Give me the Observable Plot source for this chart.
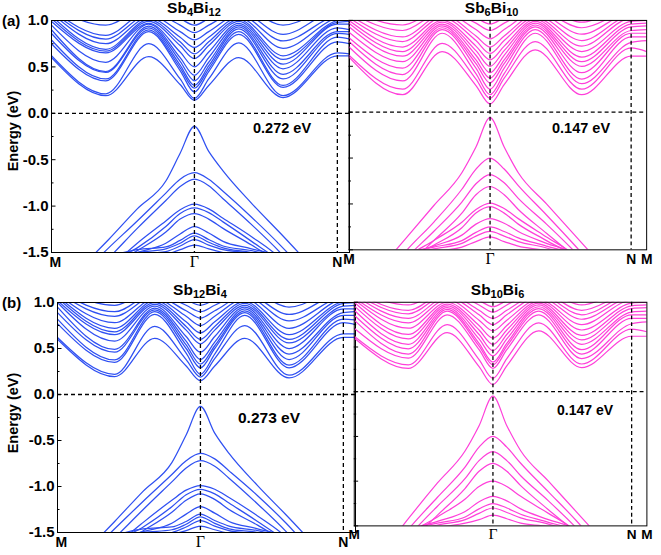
<!DOCTYPE html>
<html><head><meta charset="utf-8">
<script src="https://cdn.jsdelivr.net/npm/d3@7"></script>
<script src="https://cdn.jsdelivr.net/npm/@observablehq/plot@0.6"></script>
<style>
body{margin:0;background:#fff;}
#fig{position:relative;width:661px;height:555px;overflow:hidden;font-family:"Liberation Sans",Arial,sans-serif;color:#000;background:#fff;}
.lbl{position:absolute;white-space:nowrap;font-weight:bold;line-height:1;}
.pan{position:absolute;}
.lbl sub{font-size:11px;vertical-align:-3px;line-height:0;}
</style></head><body><div id="fig"></div>
<script>
// ---------- data: conduction bands (eV) at k-points (M=0, Γ=1, N=2) ----------
const kCB_a1 = [0, 0.38, 0.68, 0.9, 1.0, 1.1, 1.31, 1.62, 2.0, 2.085];
const cb_a1 = [
  [0.60, 0.19, 0.61, 0.31, 0.14, 0.30, 0.60, 0.17, 0.62, 0.62],
  [0.62, 0.21, 0.75, 0.37, 0.16, 0.37, 0.76, 0.19, 0.65, 0.64],
  [0.75, 0.35, 0.88, 0.46, 0.23, 0.45, 0.85, 0.28, 0.77, 0.75],
  [0.79, 0.37, 0.90, 0.49, 0.27, 0.48, 0.88, 0.30, 0.82, 0.80],
  [0.86, 0.44, 0.92, 0.52, 0.30, 0.51, 0.91, 0.37, 0.86, 0.85],
  [0.90, 0.45, 0.94, 0.56, 0.35, 0.55, 0.93, 0.42, 0.88, 0.88],
  [0.95, 0.55, 0.96, 0.60, 0.41, 0.60, 0.95, 0.48, 0.92, 0.90],
  [0.99, 0.65, 0.97, 0.66, 0.50, 0.66, 0.97, 0.53, 0.96, 0.96],
  [1.02, 0.67, 0.99, 0.73, 0.59, 0.73, 0.99, 0.58, 0.98, 0.99],
  [1.05, 0.69, 1.01, 0.77, 0.64, 0.77, 1.01, 0.62, 1.00, 1.02],
  [1.08, 0.75, 1.03, 0.82, 0.71, 0.82, 1.03, 0.70, 1.03, 1.05],
  [1.10, 0.80, 1.06, 0.88, 0.79, 0.88, 1.06, 0.78, 1.06, 1.08],
  [1.12, 0.84, 1.10, 0.95, 0.87, 0.95, 1.10, 0.85, 1.10, 1.10],
  [1.15, 0.95, 1.15, 1.02, 0.95, 1.02, 1.15, 0.95, 1.15, 1.15]
];
const kCB_a2 = [0, 0.38, 0.66, 0.9, 1.0, 1.1, 1.32, 1.65, 2.0, 2.11];
const cb_a2 = [
  [0.60, 0.19, 0.66, 0.29, 0.09, 0.30, 0.68, 0.19, 0.61, 0.61],
  [0.62, 0.25, 0.75, 0.36, 0.15, 0.37, 0.77, 0.25, 0.70, 0.66],
  [0.71, 0.34, 0.86, 0.42, 0.19, 0.42, 0.86, 0.31, 0.76, 0.78],
  [0.77, 0.41, 0.90, 0.48, 0.25, 0.48, 0.90, 0.36, 0.82, 0.82],
  [0.81, 0.48, 0.92, 0.53, 0.32, 0.53, 0.93, 0.43, 0.86, 0.86],
  [0.87, 0.55, 0.94, 0.57, 0.37, 0.57, 0.95, 0.50, 0.89, 0.90],
  [0.93, 0.61, 0.96, 0.62, 0.43, 0.62, 0.97, 0.55, 0.93, 0.94],
  [0.97, 0.66, 0.98, 0.67, 0.50, 0.67, 0.99, 0.60, 0.96, 0.97],
  [1.00, 0.71, 1.00, 0.72, 0.57, 0.72, 1.01, 0.66, 0.99, 1.00],
  [1.03, 0.77, 1.03, 0.78, 0.64, 0.78, 1.03, 0.72, 1.02, 1.02],
  [1.06, 0.82, 1.06, 0.83, 0.71, 0.83, 1.06, 0.78, 1.05, 1.05],
  [1.09, 0.89, 1.09, 0.90, 0.80, 0.90, 1.09, 0.85, 1.08, 1.08],
  [1.12, 0.95, 1.12, 0.97, 0.89, 0.97, 1.12, 0.92, 1.10, 1.10],
  [1.15, 1.00, 1.15, 1.03, 0.96, 1.03, 1.15, 0.98, 1.15, 1.15]
];
const kCB_b1 = [0, 0.40, 0.68, 0.9, 1.0, 1.1, 1.31, 1.62, 2.0, 2.085];
const cb_b1 = [
  [0.60, 0.195, 0.61, 0.31, 0.15, 0.31, 0.61, 0.18, 0.62, 0.62],
  [0.62, 0.22, 0.74, 0.38, 0.19, 0.39, 0.75, 0.21, 0.66, 0.66],
  [0.77, 0.35, 0.87, 0.45, 0.22, 0.44, 0.86, 0.29, 0.78, 0.76],
  [0.82, 0.376, 0.90, 0.50, 0.29, 0.50, 0.89, 0.32, 0.82, 0.81],
  [0.89, 0.46, 0.92, 0.54, 0.33, 0.53, 0.91, 0.38, 0.86, 0.86],
  [0.95, 0.49, 0.94, 0.58, 0.38, 0.57, 0.93, 0.44, 0.89, 0.90],
  [1.00, 0.58, 0.96, 0.63, 0.46, 0.63, 0.95, 0.50, 0.93, 0.93],
  [1.02, 0.65, 0.98, 0.70, 0.55, 0.70, 0.97, 0.56, 0.96, 0.97],
  [1.05, 0.68, 1.00, 0.74, 0.60, 0.74, 0.99, 0.60, 0.99, 1.00],
  [1.07, 0.72, 1.02, 0.79, 0.67, 0.79, 1.01, 0.65, 1.01, 1.02],
  [1.09, 0.78, 1.04, 0.85, 0.75, 0.85, 1.04, 0.72, 1.04, 1.05],
  [1.11, 0.85, 1.07, 0.91, 0.83, 0.91, 1.07, 0.80, 1.07, 1.08],
  [1.13, 0.90, 1.10, 0.97, 0.90, 0.97, 1.10, 0.87, 1.10, 1.10],
  [1.16, 0.97, 1.15, 1.03, 0.97, 1.03, 1.15, 0.95, 1.15, 1.15]
];
const kCB_b2 = [0, 0.39, 0.67, 0.9, 1.0, 1.1, 1.33, 1.64, 2.0, 2.11];
const cb_b2 = [
  [0.60, 0.26, 0.66, 0.28, 0.08, 0.29, 0.68, 0.27, 0.62, 0.62],
  [0.62, 0.30, 0.75, 0.36, 0.15, 0.37, 0.77, 0.31, 0.70, 0.67],
  [0.71, 0.376, 0.86, 0.47, 0.26, 0.47, 0.86, 0.37, 0.76, 0.78],
  [0.80, 0.42, 0.90, 0.51, 0.30, 0.51, 0.90, 0.42, 0.82, 0.82],
  [0.855, 0.48, 0.92, 0.54, 0.33, 0.54, 0.93, 0.47, 0.86, 0.86],
  [0.91, 0.53, 0.94, 0.59, 0.40, 0.59, 0.95, 0.53, 0.89, 0.90],
  [0.96, 0.59, 0.96, 0.64, 0.46, 0.64, 0.97, 0.58, 0.93, 0.94],
  [1.00, 0.64, 0.98, 0.69, 0.53, 0.69, 0.99, 0.63, 0.96, 0.97],
  [1.03, 0.71, 1.00, 0.74, 0.60, 0.74, 1.01, 0.69, 0.99, 1.00],
  [1.05, 0.77, 1.03, 0.80, 0.68, 0.80, 1.03, 0.75, 1.02, 1.02],
  [1.08, 0.82, 1.06, 0.86, 0.75, 0.86, 1.06, 0.81, 1.05, 1.05],
  [1.10, 0.87, 1.09, 0.91, 0.82, 0.91, 1.09, 0.86, 1.08, 1.08],
  [1.12, 0.91, 1.12, 0.97, 0.89, 0.97, 1.12, 0.91, 1.10, 1.10],
  [1.15, 0.97, 1.15, 1.02, 0.95, 1.02, 1.15, 0.97, 1.15, 1.15]
];
// ---------- data: valence bands (eV) ----------
const kVB = [0.2, 0.4, 0.6, 0.8, 0.9, 1.0, 1.1, 1.2, 1.4, 1.6, 1.8];
const vb_a1 = [
  [-1.67, -1.36, -1.03, -0.73, -0.43, -0.14, -0.41, -0.62, -0.97, -1.29, -1.62],
  [-1.75, -1.45, -1.16, -0.86, -0.71, -0.64, -0.71, -0.84, -1.12, -1.42, -1.75],
  [-1.85, -1.56, -1.24, -0.94, -0.79, -0.71, -0.78, -0.92, -1.20, -1.50, -1.85],
  [-2.00, -1.68, -1.40, -1.16, -1.04, -0.98, -1.03, -1.13, -1.33, -1.56, -1.90],
  [-2.00, -1.62, -1.45, -1.22, -1.08, -1.02, -1.07, -1.17, -1.38, -1.60, -1.90],
  [-2.00, -1.66, -1.48, -1.28, -1.14, -1.08, -1.14, -1.24, -1.42, -1.62, -1.90],
  [-2.00, -1.60, -1.50, -1.40, -1.30, -1.22, -1.29, -1.38, -1.46, -1.56, -1.90],
  [-1.90, -1.56, -1.47, -1.44, -1.37, -1.29, -1.36, -1.43, -1.48, -1.58, -1.90],
  [-1.90, -1.58, -1.50, -1.46, -1.40, -1.32, -1.39, -1.45, -1.50, -1.60, -1.90],
  [-1.90, -1.60, -1.52, -1.49, -1.43, -1.36, -1.42, -1.47, -1.51, -1.62, -1.90],
  [-1.90, -1.62, -1.55, -1.52, -1.47, -1.42, -1.46, -1.50, -1.55, -1.65, -1.90]
];
const vb_a2 = [
  [-1.74, -1.38, -1.02, -0.66, -0.38, -0.06, -0.38, -0.66, -1.00, -1.34, -1.68],
  [-1.90, -1.52, -1.20, -0.84, -0.62, -0.50, -0.62, -0.80, -1.12, -1.45, -1.80],
  [-1.95, -1.60, -1.30, -0.98, -0.78, -0.68, -0.77, -0.94, -1.22, -1.52, -1.85],
  [-2.00, -1.70, -1.40, -1.10, -0.90, -0.81, -0.90, -1.06, -1.32, -1.58, -1.90],
  [-2.00, -1.60, -1.40, -1.20, -1.06, -0.99, -1.05, -1.16, -1.36, -1.56, -1.90],
  [-2.00, -1.62, -1.45, -1.26, -1.10, -1.03, -1.10, -1.22, -1.40, -1.58, -1.90],
  [-2.00, -1.58, -1.46, -1.34, -1.22, -1.16, -1.21, -1.30, -1.43, -1.55, -1.90],
  [-1.90, -1.55, -1.47, -1.40, -1.31, -1.25, -1.30, -1.37, -1.46, -1.57, -1.90],
  [-1.90, -1.58, -1.49, -1.43, -1.35, -1.30, -1.35, -1.41, -1.48, -1.60, -1.90],
  [-1.90, -1.60, -1.52, -1.47, -1.41, -1.36, -1.41, -1.46, -1.51, -1.62, -1.90]
];
const vb_b1 = [
  [-1.70, -1.38, -1.05, -0.74, -0.44, -0.13, -0.42, -0.64, -0.99, -1.31, -1.64],
  [-1.76, -1.46, -1.16, -0.87, -0.72, -0.64, -0.70, -0.83, -1.10, -1.40, -1.74],
  [-1.86, -1.56, -1.25, -0.95, -0.80, -0.72, -0.78, -0.91, -1.19, -1.49, -1.84],
  [-2.00, -1.66, -1.39, -1.15, -1.04, -0.99, -1.03, -1.12, -1.32, -1.55, -1.90],
  [-2.00, -1.62, -1.44, -1.22, -1.09, -1.03, -1.08, -1.18, -1.38, -1.60, -1.90],
  [-2.00, -1.66, -1.48, -1.28, -1.15, -1.08, -1.14, -1.25, -1.42, -1.62, -1.90],
  [-2.00, -1.58, -1.49, -1.40, -1.30, -1.22, -1.29, -1.38, -1.46, -1.56, -1.90],
  [-1.90, -1.55, -1.46, -1.44, -1.38, -1.30, -1.37, -1.43, -1.48, -1.58, -1.90],
  [-1.90, -1.57, -1.50, -1.47, -1.41, -1.33, -1.40, -1.46, -1.50, -1.60, -1.90],
  [-1.90, -1.60, -1.53, -1.50, -1.44, -1.37, -1.43, -1.48, -1.52, -1.62, -1.90],
  [-1.90, -1.62, -1.55, -1.52, -1.48, -1.43, -1.47, -1.51, -1.55, -1.65, -1.90]
];
const vb_b2 = [
  [-1.80, -1.40, -1.02, -0.66, -0.38, -0.05, -0.38, -0.66, -1.00, -1.34, -1.68],
  [-1.90, -1.52, -1.18, -0.84, -0.62, -0.50, -0.62, -0.80, -1.12, -1.44, -1.80],
  [-1.95, -1.60, -1.28, -0.97, -0.77, -0.67, -0.77, -0.94, -1.22, -1.52, -1.85],
  [-2.00, -1.68, -1.38, -1.08, -0.89, -0.80, -0.89, -1.05, -1.32, -1.58, -1.90],
  [-2.00, -1.60, -1.40, -1.20, -1.06, -1.00, -1.06, -1.17, -1.36, -1.56, -1.90],
  [-2.00, -1.56, -1.45, -1.34, -1.23, -1.17, -1.22, -1.31, -1.43, -1.55, -1.90],
  [-1.90, -1.55, -1.47, -1.40, -1.31, -1.25, -1.30, -1.37, -1.46, -1.57, -1.90],
  [-1.90, -1.58, -1.49, -1.43, -1.36, -1.30, -1.35, -1.41, -1.48, -1.60, -1.90],
  [-1.90, -1.60, -1.52, -1.47, -1.43, -1.38, -1.42, -1.47, -1.51, -1.62, -1.90]
];
// ---------- labels ----------
const titles = ["Sb<sub>4</sub>Bi<sub>12</sub>", "Sb<sub>6</sub>Bi<sub>10</sub>", "Sb<sub>12</sub>Bi<sub>4</sub>", "Sb<sub>10</sub>Bi<sub>6</sub>"];
const gapLabels = ["0.272 eV", "0.147 eV", "0.273 eV", "0.147 eV"];
const rowLabels = ["(a)", "(b)"];
const yTicksMajor = [-1.5, -1.0, -0.5, 0.0, 0.5, 1.0];
const yTicksMinor = [-1.25, -0.75, -0.25, 0.25, 0.75];
const kSym = [0, 1, 2];          // M, Γ, N
const yAxisLabel = "Energy (eV)";

const BLUE = "#2f50f2", PINK = "#ff40da";

function rowsOf(kArr, bands, prefix) {
  const out = [];
  bands.forEach((vals, i) => vals.forEach((e, j) => out.push({band: prefix + i, k: kArr[j], e})));
  return out;
}

const panels = [
  {x: 51, y: 20, w: 298, h: 232, kEnd: 2.085, kc: kCB_a1, cb: cb_a1, vb: vb_a1, color: BLUE, left: true},
  {x: 349, y: 20, w: 301, h: 232, kEnd: 2.11, kc: kCB_a2, cb: cb_a2, vb: vb_a2, color: PINK, left: false},
  {x: 57, y: 302, w: 298, h: 230, kEnd: 2.085, kc: kCB_b1, cb: cb_b1, vb: vb_b1, color: BLUE, left: true},
  {x: 355, y: 302, w: 301, h: 230, kEnd: 2.11, kc: kCB_b2, cb: cb_b2, vb: vb_b2, color: PINK, left: false}
];

const ML = 45, MR = 15, MT = 8, MB = 28;
const fig = document.getElementById("fig");

panels.forEach((p, idx) => {
  const data = rowsOf(p.kc, p.cb, "c").concat(rowsOf(kVB, p.vb, "v"));
  const pxPerK = p.w / p.kEnd;
  const majLen = 4.5 / pxPerK, minLen = 2.5 / pxPerK;
  const midLabels = [{k: kSym[2], t: "N"}];
  if (!p.left) { midLabels.push({k: kSym[0], t: "M"}); midLabels.push({k: p.kEnd, t: "M"}); }
  const marks = [
    Plot.line(data, {x: "k", y: "e", z: "band", stroke: p.color, strokeWidth: 1.25, curve: "monotone-x", clip: true}),
    Plot.ruleY([0], {stroke: "black", strokeWidth: 1.3, strokeDasharray: "4 3"}),
    Plot.ruleX([kSym[1], kSym[2]], {stroke: "black", strokeWidth: 1.3, strokeDasharray: "4 3"}),
    Plot.ruleY(yTicksMajor, {y: d => d, x1: 0, x2: majLen, stroke: "black", strokeWidth: 1}),
    Plot.ruleY(yTicksMinor, {y: d => d, x1: 0, x2: minLen, stroke: "black", strokeWidth: 1}),
    Plot.frame({stroke: "black", strokeWidth: 1}),
    Plot.text(midLabels, {x: "k", text: "t", frameAnchor: "bottom", dy: 14, fontSize: 14, fontWeight: "bold", fill: "black"}),
    Plot.text([kSym[1]], {x: d => d, text: () => "Γ", frameAnchor: "bottom", dy: 14, fontSize: 16, fontFamily: "Liberation Serif, Times New Roman, serif", fill: "black"})
  ];
  if (p.left) {
    marks.push(Plot.text([{k: kSym[0], t: "M"}], {x: "k", text: "t", textAnchor: "start", frameAnchor: "bottom", dy: 14, dx: -2, fontSize: 14, fontWeight: "bold", fill: "black"}));
    marks.push(Plot.text(yTicksMajor, {x: 0, y: d => d, text: d => d.toFixed(1), textAnchor: "end", dx: -3, fontSize: 15, fontWeight: "bold", fill: "black"}));
  }
  const chart = Plot.plot({
    width: p.w + ML + MR, height: p.h + MT + MB,
    marginLeft: ML, marginRight: MR, marginTop: MT, marginBottom: MB,
    x: {domain: [0, p.kEnd], axis: null},
    y: {domain: [-1.5, 1.0], axis: null},
    style: {background: "transparent", overflow: "visible", fontFamily: "Liberation Sans, Arial, sans-serif"},
    marks
  });
  const wrap = document.createElement("div");
  wrap.className = "pan";
  wrap.style.left = (p.x - ML) + "px";
  wrap.style.top = (p.y - MT) + "px";
  wrap.appendChild(chart);
  fig.appendChild(wrap);

  // title over Γ
  const gx = p.x + pxPerK * kSym[1];
  const t = document.createElement("div");
  t.className = "lbl";
  t.style.fontSize = "15.5px";
  t.style.left = gx + "px";
  t.style.top = (p.y - 20) + "px";
  t.style.transform = "translateX(-50%)";
  t.innerHTML = titles[idx];
  fig.appendChild(t);
});

function addLabel(text, left, top, size, extra) {
  const d = document.createElement("div");
  d.className = "lbl";
  d.style.left = left + "px";
  d.style.top = top + "px";
  d.style.fontSize = size + "px";
  if (extra) Object.assign(d.style, extra);
  d.textContent = text;
  fig.appendChild(d);
}
addLabel(rowLabels[0], 2, 13, 15);
addLabel(rowLabels[1], 2, 295, 15);
addLabel(yAxisLabel, 13, 131, 14.5, {transform: "translate(-50%,-50%) rotate(-90deg)"});
addLabel(yAxisLabel, 13, 413, 14.5, {transform: "translate(-50%,-50%) rotate(-90deg)"});
addLabel(gapLabels[0], 253, 121, 14.5);
addLabel(gapLabels[1], 552, 121, 14.5);
addLabel(gapLabels[2], 238, 410, 15.5);
addLabel(gapLabels[3], 557, 403, 14);
</script></body></html>
